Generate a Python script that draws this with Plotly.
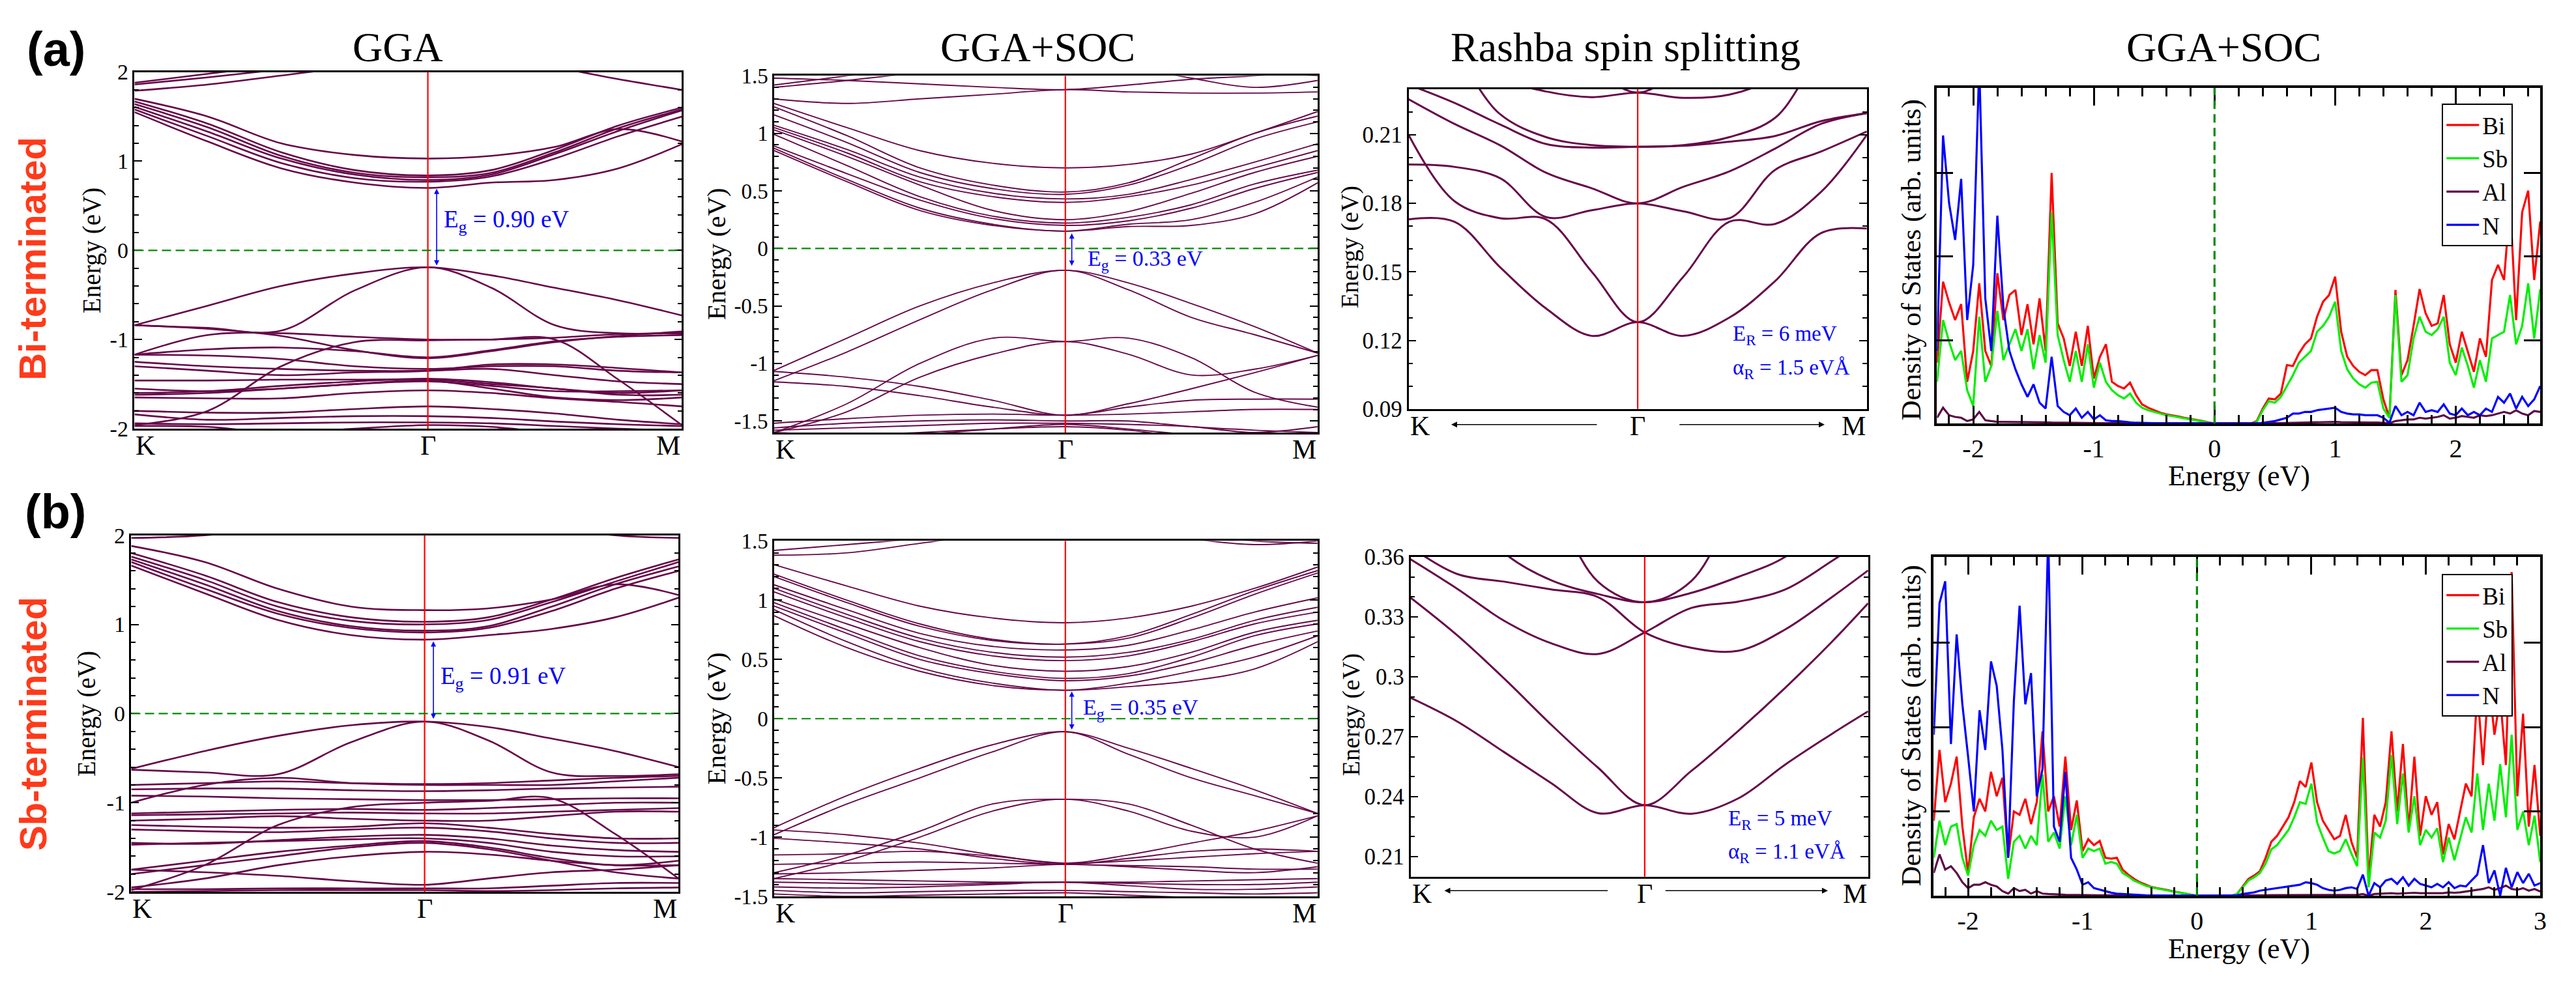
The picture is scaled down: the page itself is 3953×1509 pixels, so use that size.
import plotly.graph_objects as go

W, H = 3953, 1509
SERIF = "Liberation Serif, Times New Roman, serif"
SANS = "Liberation Sans, Arial, sans-serif"
BAND = "#670748"
FERMI = "#008b00"

# ---------------- k-paths ----------------
k_path = [0.0, 0.25, 0.5, 0.75, 1.0, 1.2165, 1.433, 1.6495, 1.866]   # K ... Gamma(1.0) ... M
k_gamma = 1.0
k_rashba_a = [-1.0, -0.8, -0.6, -0.4, -0.2, 0.0, 0.2, 0.4, 0.6, 0.8, 1.0]
k_rashba_b = [-1.0, -0.8, -0.6, -0.4, -0.2, 0.0, 0.2, 0.4, 0.6, 0.8, 0.954]

# ---------------- GGA, Bi-terminated ----------------
gga_a_cond = [
    [1.55, 1.22, 0.92, 0.76, 0.70, 0.76, 0.79, 0.92, 1.19],
    [1.58, 1.28, 0.98, 0.81, 0.77, 0.83, 1.03, 1.28, 1.50],
    [1.61, 1.33, 1.03, 0.85, 0.79, 0.85, 1.08, 1.34, 1.57],
    [1.64, 1.38, 1.06, 0.87, 0.82, 0.87, 1.10, 1.37, 1.58],
    [1.67, 1.42, 1.10, 0.90, 0.84, 0.90, 1.13, 1.40, 1.60],
    [1.70, 1.50, 1.20, 1.07, 1.03, 1.06, 1.16, 1.36, 1.22],
    [1.79, 1.86, 1.96, 2.06, 2.12, 2.12, 2.05, 1.92, 1.80],
    [1.86, 1.94, 2.03, 2.12, 2.20, 2.20, 2.15, 2.08, 2.02],
    [1.88, 1.98, 2.08, 2.18, 2.25, 2.25, 2.20, 2.15, 2.10],
]
gga_a_val = [
    [-0.84, -0.62, -0.40, -0.26, -0.19, -0.28, -0.42, -0.56, -0.73],
    [-0.84, -0.87, -0.90, -0.45, -0.19, -0.42, -0.84, -0.93, -0.92],
    [-1.17, -0.95, -0.93, -0.97, -1.00, -1.00, -0.98, -0.94, -0.93],
    [-0.84, -0.88, -0.96, -1.12, -1.21, -1.13, -1.03, -0.96, -0.91],
    [-1.17, -1.11, -1.09, -1.13, -1.20, -1.12, -1.02, -0.97, -0.95],
    [-1.17, -1.18, -1.22, -1.30, -1.33, -1.30, -1.30, -1.35, -1.37],
    [-1.96, -1.80, -1.30, -1.03, -1.01, -1.00, -1.00, -1.45, -1.96],
    [-1.25, -1.30, -1.33, -1.35, -1.35, -1.33, -1.40, -1.47, -1.50],
    [-1.46, -1.46, -1.45, -1.45, -1.45, -1.50, -1.55, -1.62, -1.62],
    [-1.60, -1.58, -1.52, -1.47, -1.44, -1.48, -1.55, -1.60, -1.57],
    [-1.62, -1.60, -1.55, -1.50, -1.46, -1.55, -1.65, -1.68, -1.65],
    [-1.65, -1.66, -1.66, -1.60, -1.57, -1.60, -1.66, -1.70, -1.75],
    [-1.80, -1.82, -1.82, -1.78, -1.75, -1.78, -1.83, -1.90, -1.95],
    [-1.84, -1.90, -1.88, -1.86, -1.86, -1.88, -1.92, -1.95, -1.97],
    [-1.94, -1.95, -1.94, -1.93, -1.93, -1.94, -1.97, -2.00, -2.02],
    [-1.97, -1.98, -2.05, -2.00, -1.96, -1.98, -2.05, -2.10, -2.10],
    [-1.30, -1.35, -1.40, -1.37, -1.35, -1.28, -1.28, -1.32, -1.37],
    [-1.55, -1.58, -1.55, -1.50, -1.47, -1.52, -1.58, -1.58, -1.57],
]

# ---------------- GGA, Sb-terminated ----------------
gga_b_cond = [
    [1.66, 1.35, 1.05, 0.88, 0.83, 0.88, 0.95, 1.08, 1.30],
    [1.70, 1.40, 1.12, 0.96, 0.91, 0.96, 1.15, 1.40, 1.60],
    [1.73, 1.45, 1.15, 0.98, 0.93, 0.98, 1.20, 1.45, 1.65],
    [1.76, 1.50, 1.20, 1.04, 1.00, 1.05, 1.25, 1.48, 1.70],
    [1.80, 1.55, 1.25, 1.08, 1.03, 1.08, 1.28, 1.52, 1.73],
    [1.88, 1.70, 1.40, 1.20, 1.16, 1.18, 1.28, 1.45, 1.33],
    [1.97, 2.00, 2.10, 2.20, 2.25, 2.20, 2.10, 2.00, 1.97],
]
gga_b_val = [
    [-0.62, -0.42, -0.25, -0.13, -0.09, -0.15, -0.28, -0.42, -0.60],
    [-0.63, -0.66, -0.68, -0.32, -0.09, -0.30, -0.66, -0.70, -0.68],
    [-0.80, -0.78, -0.76, -0.78, -0.79, -0.78, -0.75, -0.72, -0.70],
    [-0.85, -0.84, -0.84, -0.86, -0.87, -0.86, -0.84, -0.83, -0.82],
    [-1.00, -0.80, -0.72, -0.78, -0.80, -0.80, -0.80, -0.76, -0.72],
    [-0.92, -0.93, -0.95, -0.96, -0.97, -0.97, -0.96, -0.95, -0.95],
    [-1.12, -1.10, -1.08, -1.07, -1.08, -1.06, -1.03, -1.00, -1.00],
    [-1.14, -1.13, -1.12, -1.11, -1.12, -1.12, -1.10, -1.08, -1.06],
    [-1.20, -1.18, -1.15, -1.18, -1.20, -1.20, -1.15, -1.10, -1.10],
    [-1.25, -1.27, -1.28, -1.27, -1.23, -1.28, -1.35, -1.40, -1.40],
    [-1.30, -1.32, -1.33, -1.30, -1.28, -1.32, -1.40, -1.45, -1.45],
    [-1.45, -1.46, -1.42, -1.38, -1.36, -1.40, -1.48, -1.53, -1.55],
    [-1.47, -1.45, -1.43, -1.41, -1.40, -1.45, -1.55, -1.60, -1.60],
    [-1.75, -1.65, -1.55, -1.48, -1.43, -1.50, -1.62, -1.70, -1.65],
    [-1.80, -1.70, -1.60, -1.50, -1.45, -1.52, -1.65, -1.78, -1.85],
    [-1.95, -1.85, -1.70, -1.60, -1.55, -1.58, -1.65, -1.70, -1.70],
    [-1.98, -1.70, -1.25, -1.05, -1.00, -0.98, -0.95, -1.35, -1.85],
    [-1.97, -1.97, -1.96, -1.96, -1.96, -1.96, -1.93, -1.90, -1.90],
    [-2.00, -1.99, -1.98, -1.98, -1.98, -1.99, -1.98, -1.96, -1.95],
    [-1.75, -1.78, -1.82, -1.88, -1.92, -1.85, -1.78, -1.75, -1.70],
]

# ---------------- GGA+SOC, Bi-terminated ----------------
soc_a_cond = [
    [0.85, 0.58, 0.33, 0.20, 0.15, 0.19, 0.20, 0.30, 0.57],
    [0.87, 0.60, 0.35, 0.21, 0.15, 0.21, 0.25, 0.40, 0.62],
    [0.89, 0.65, 0.42, 0.26, 0.20, 0.24, 0.35, 0.52, 0.66],
    [0.99, 0.72, 0.45, 0.28, 0.22, 0.27, 0.38, 0.56, 0.68],
    [1.03, 0.80, 0.55, 0.33, 0.25, 0.32, 0.48, 0.66, 0.80],
    [1.05, 0.83, 0.58, 0.45, 0.40, 0.45, 0.55, 0.70, 0.85],
    [1.07, 0.86, 0.62, 0.48, 0.43, 0.47, 0.60, 0.75, 0.91],
    [1.16, 0.92, 0.66, 0.52, 0.47, 0.55, 0.73, 0.95, 1.10],
    [1.23, 0.98, 0.70, 0.55, 0.49, 0.57, 0.78, 1.00, 1.15],
    [1.26, 1.05, 0.85, 0.74, 0.70, 0.73, 0.82, 1.00, 1.19],
    [1.30, 1.26, 1.30, 1.34, 1.38, 1.36, 1.35, 1.35, 1.36],
    [1.48, 1.46, 1.43, 1.40, 1.38, 1.42, 1.47, 1.50, 1.55],
    [1.40, 1.46, 1.53, 1.60, 1.65, 1.58, 1.48, 1.40, 1.46],
    [1.42, 1.50, 1.58, 1.65, 1.70, 1.70, 1.65, 1.55, 1.50],
]
soc_a_val = [
    [-1.06, -0.78, -0.50, -0.30, -0.19, -0.30, -0.48, -0.68, -0.91],
    [-1.15, -0.90, -0.62, -0.36, -0.19, -0.36, -0.60, -0.75, -0.91],
    [-1.60, -1.35, -1.00, -0.78, -0.81, -0.78, -0.95, -1.25, -1.38],
    [-1.60, -1.42, -1.12, -0.92, -0.81, -0.92, -1.10, -1.05, -0.93],
    [-1.07, -1.12, -1.20, -1.32, -1.45, -1.35, -1.22, -1.08, -0.93],
    [-1.16, -1.20, -1.28, -1.38, -1.45, -1.38, -1.32, -1.31, -1.31],
    [-1.52, -1.48, -1.45, -1.44, -1.45, -1.44, -1.42, -1.40, -1.40],
    [-1.56, -1.52, -1.50, -1.49, -1.50, -1.50, -1.55, -1.58, -1.60],
    [-1.58, -1.56, -1.54, -1.52, -1.52, -1.53, -1.55, -1.60, -1.55],
    [-1.60, -1.62, -1.60, -1.57, -1.55, -1.58, -1.65, -1.70, -1.70],
    [-1.70, -1.68, -1.62, -1.57, -1.53, -1.57, -1.62, -1.65, -1.60],
]

# ---------------- GGA+SOC, Sb-terminated ----------------
soc_b_cond = [
    [0.87, 0.60, 0.40, 0.28, 0.24, 0.27, 0.32, 0.42, 0.65],
    [0.92, 0.65, 0.43, 0.30, 0.24, 0.30, 0.40, 0.52, 0.70],
    [0.95, 0.72, 0.50, 0.38, 0.32, 0.36, 0.47, 0.62, 0.74],
    [0.98, 0.75, 0.53, 0.40, 0.34, 0.38, 0.52, 0.70, 0.80],
    [1.01, 0.80, 0.60, 0.45, 0.40, 0.44, 0.56, 0.73, 0.83],
    [1.07, 0.85, 0.65, 0.53, 0.49, 0.53, 0.65, 0.80, 0.90],
    [1.10, 0.88, 0.68, 0.56, 0.52, 0.56, 0.67, 0.83, 0.94],
    [1.13, 0.92, 0.72, 0.61, 0.58, 0.62, 0.75, 0.90, 1.02],
    [1.20, 0.98, 0.78, 0.66, 0.63, 0.68, 0.85, 1.05, 1.23],
    [1.22, 1.00, 0.80, 0.67, 0.63, 0.70, 0.88, 1.08, 1.25],
    [1.30, 1.12, 0.95, 0.85, 0.81, 0.85, 0.95, 1.10, 1.28],
    [1.38, 1.40, 1.48, 1.56, 1.62, 1.60, 1.55, 1.50, 1.48],
    [1.42, 1.47, 1.52, 1.58, 1.65, 1.62, 1.52, 1.47, 1.50],
]
soc_b_val = [
    [-0.92, -0.65, -0.42, -0.22, -0.11, -0.25, -0.42, -0.60, -0.80],
    [-0.98, -0.72, -0.50, -0.28, -0.11, -0.30, -0.50, -0.65, -0.80],
    [-1.30, -1.15, -0.95, -0.72, -0.68, -0.72, -0.90, -1.10, -1.22],
    [-1.35, -1.20, -1.00, -0.78, -0.68, -0.78, -0.95, -1.00, -0.82],
    [-0.94, -0.98, -1.05, -1.15, -1.22, -1.15, -1.05, -0.95, -0.82],
    [-1.01, -1.05, -1.10, -1.18, -1.23, -1.18, -1.12, -1.10, -1.12],
    [-1.23, -1.22, -1.21, -1.22, -1.23, -1.24, -1.25, -1.27, -1.27],
    [-1.31, -1.30, -1.28, -1.26, -1.23, -1.25, -1.28, -1.30, -1.25],
    [-1.35, -1.36, -1.37, -1.38, -1.38, -1.38, -1.37, -1.36, -1.35],
    [-1.38, -1.39, -1.40, -1.39, -1.38, -1.39, -1.40, -1.40, -1.38],
    [-1.42, -1.43, -1.42, -1.40, -1.38, -1.41, -1.44, -1.44, -1.42],
    [-1.45, -1.47, -1.46, -1.45, -1.45, -1.46, -1.47, -1.48, -1.47],
    [-1.48, -1.50, -1.49, -1.48, -1.47, -1.49, -1.51, -1.52, -1.52],
    [-1.15, -1.14, -1.12, -1.16, -1.22, -1.20, -1.17, -1.14, -1.12],
]

# ---------------- Rashba zooms ----------------
rashba_a = [
    [0.173, 0.172, 0.152, 0.134, 0.122, 0.128, 0.122, 0.130, 0.146, 0.167, 0.169],
    [0.210, 0.181, 0.1735, 0.173, 0.150, 0.128, 0.148, 0.172, 0.171, 0.185, 0.210],
    [0.197, 0.196, 0.191, 0.174, 0.177, 0.180, 0.1765, 0.1735, 0.1947, 0.2027, 0.2115],
    [0.2256, 0.2148, 0.2054, 0.1934, 0.1866, 0.180, 0.1873, 0.194, 0.204, 0.2148, 0.2195],
    [0.232, 0.224, 0.2145, 0.206, 0.2044, 0.2048, 0.2052, 0.207, 0.2095, 0.216, 0.2195],
    [0.260, 0.245, 0.219, 0.209, 0.2055, 0.2048, 0.2055, 0.209, 0.2175, 0.245, 0.260],
    [0.260, 0.250, 0.235, 0.229, 0.2265, 0.2285, 0.2262, 0.2276, 0.235, 0.250, 0.260],
    [0.320, 0.300, 0.280, 0.260, 0.240, 0.2285, 0.240, 0.260, 0.280, 0.300, 0.320],
]
rashba_b = [
    [0.2895, 0.2776, 0.2623, 0.2469, 0.2318, 0.2358, 0.2315, 0.2392, 0.2561, 0.2715, 0.2827],
    [0.3396, 0.3207, 0.2991, 0.2761, 0.2546, 0.2358, 0.2530, 0.2730, 0.2945, 0.3176, 0.3368],
    [0.3588, 0.3440, 0.3280, 0.3168, 0.3114, 0.3222, 0.3345, 0.3376, 0.3437, 0.3580, 0.3700],
    [0.3650, 0.3514, 0.3476, 0.3437, 0.3399, 0.3222, 0.3145, 0.3130, 0.3237, 0.3399, 0.3532],
    [0.4200, 0.3900, 0.3620, 0.3483, 0.3414, 0.3373, 0.3420, 0.3500, 0.3600, 0.3800, 0.4000],
    [0.5000, 0.4700, 0.4300, 0.3900, 0.3476, 0.3373, 0.3480, 0.3900, 0.4300, 0.4700, 0.5000],
]

# ---------------- projected DOS ----------------
dos_a_energy = [round(-2.30 + 0.05 * i, 2) for i in range(101)]
dos_b_energy = [round(-2.30 + 0.05 * i, 2) for i in range(107)]

dos_a_bi = [0.73, 1.70, 1.45, 1.24, 1.43, 0.50, 0.87, 1.68, 0.87, 0.69, 1.80, 1.24, 1.54, 1.60, 1.06, 1.43,
            0.95, 1.50, 0.87, 3.00, 1.20, 1.02, 0.69, 1.10, 0.69, 1.17, 0.54, 0.80, 0.95, 0.50, 0.45, 0.42,
            0.49, 0.34, 0.23, 0.19, 0.16, 0.13, 0.11, 0.10, 0.085, 0.07, 0.06, 0.045, 0.03, 0.015, 0.0,
            0, 0, 0, 0, 0, 0,
            0.03, 0.18, 0.30, 0.29, 0.36, 0.70, 0.69, 0.84, 0.95, 1.02, 1.28, 1.46, 1.54, 1.76, 1.10, 0.80,
            0.69, 0.62, 0.58, 0.64, 0.64, 0.29, 0.07, 1.60, 0.58, 0.76, 1.17, 1.61, 1.32, 1.17, 1.20, 1.54,
            0.95, 0.73, 1.10, 0.87, 0.62, 1.02, 0.80, 1.72, 1.90, 1.72, 2.64, 1.24, 2.53, 2.79, 1.72, 2.42]
dos_a_sb = [0.50, 1.24, 0.98, 0.76, 0.87, 0.40, 0.21, 1.28, 0.50, 0.69, 1.35, 0.76, 0.95, 1.13, 0.87, 1.13,
            0.65, 1.06, 0.73, 2.53, 1.06, 0.76, 0.50, 0.87, 0.50, 0.95, 0.43, 0.73, 0.50, 0.40, 0.34, 0.30,
            0.36, 0.25, 0.19, 0.16, 0.14, 0.12, 0.10, 0.09, 0.075, 0.062, 0.05, 0.038, 0.025, 0.012, 0.0,
            0, 0, 0, 0, 0, 0,
            0.02, 0.16, 0.27, 0.25, 0.32, 0.45, 0.58, 0.73, 0.80, 0.87, 1.10, 1.17, 1.28, 1.46, 0.87, 0.65,
            0.54, 0.47, 0.43, 0.49, 0.50, 0.18, 0.07, 1.54, 0.50, 0.58, 1.02, 1.28, 1.10, 1.06, 1.13, 1.28,
            0.73, 0.58, 0.91, 0.69, 0.43, 0.76, 0.50, 1.02, 1.06, 1.10, 1.54, 0.95, 1.17, 1.68, 1.02, 1.61]
dos_a_al = [0.07, 0.19, 0.10, 0.08, 0.07, 0.03, 0.05, 0.14, 0.04, 0.03, 0.02, 0.02, 0.02, 0.018, 0.018,
            0.016, 0.015, 0.015, 0.015, 0.012, 0.012, 0.01, 0.01, 0.01, 0.008, 0.008, 0.007,
            0.006, 0.005, 0.005, 0.004, 0.004, 0.003, 0.003, 0.002, 0.002, 0.002, 0.001, 0.001, 0.001,
            0.001, 0, 0, 0, 0, 0, 0,
            0, 0, 0, 0, 0, 0, 0,
            0.002, 0.003, 0.005, 0.006, 0.008, 0.01, 0.01, 0.012, 0.014, 0.015, 0.016, 0.018, 0.02, 0.016,
            0.014, 0.013, 0.013, 0.012, 0.012, 0.012, 0.01, 0.005, 0.03, 0.04, 0.05, 0.05, 0.07, 0.06,
            0.07, 0.08, 0.10, 0.06, 0.07, 0.09, 0.08, 0.07, 0.10, 0.09, 0.10, 0.12, 0.14, 0.12, 0.16,
            0.12, 0.10, 0.15, 0.14]
dos_a_n = [0.87, 3.45, 2.64, 2.20, 2.93, 1.24, 1.90, 4.30, 1.50, 0.87, 2.49, 1.39, 0.87, 0.65, 0.47, 0.32,
           0.47, 0.25, 0.18, 0.80, 0.21, 0.14, 0.10, 0.18, 0.07, 0.14, 0.05, 0.10, 0.04, 0.03, 0.03, 0.02,
           0.015, 0.01, 0.007, 0.005, 0.004, 0.003, 0.003, 0.002, 0.002, 0.001, 0.001, 0.001, 0, 0, 0,
           0, 0, 0, 0, 0, 0, 0,
           0.01, 0.02, 0.03, 0.05, 0.07, 0.12, 0.12, 0.14, 0.14, 0.16, 0.17, 0.18, 0.19, 0.14, 0.12, 0.11,
           0.11, 0.10, 0.10, 0.10, 0.07, 0.01, 0.21, 0.10, 0.14, 0.10, 0.25, 0.14, 0.16, 0.14, 0.23, 0.12,
           0.10, 0.18, 0.10, 0.14, 0.10, 0.18, 0.14, 0.32, 0.25, 0.36, 0.18, 0.32, 0.21, 0.29, 0.45]

dos_b_bi = [0.89, 1.73, 1.11, 1.33, 1.65, 0.82, 0.27, 0.93, 1.15, 1.00, 1.47, 1.18, 1.40, 0.45, 1.00, 0.96,
            1.15, 0.85, 1.11, 1.95, 1.00, 1.18, 0.82, 1.65, 0.78, 1.13, 0.53, 0.67, 0.60, 0.65, 0.45, 0.44,
            0.45, 0.31, 0.25, 0.20, 0.16, 0.13, 0.105, 0.09, 0.08, 0.065, 0.05, 0.037, 0.025, 0.012, 0.0,
            0, 0, 0, 0, 0, 0,
            0.02, 0.11, 0.20, 0.24, 0.29, 0.45, 0.64, 0.71, 0.82, 0.93, 1.11, 1.36, 1.29, 1.58, 1.11, 0.89,
            0.78, 0.67, 0.71, 0.96, 0.64, 0.45, 2.11, 0.20, 0.96, 0.82, 1.11, 1.95, 1.00, 1.80, 0.78, 1.65,
            0.71, 1.18, 0.96, 1.11, 0.49, 0.85, 0.67, 1.00, 1.33, 1.18, 2.45, 1.55, 2.56, 1.91, 2.35, 1.55,
            3.84, 1.18, 2.16, 0.82, 1.55, 0.71]
dos_b_sb = [0.45, 0.89, 0.60, 0.82, 0.85, 0.45, 0.24, 0.60, 0.78, 0.71, 0.89, 0.78, 0.82, 0.20, 0.64, 0.71,
            0.56, 0.71, 0.60, 1.44, 0.64, 0.75, 0.56, 1.18, 0.60, 0.96, 0.45, 0.56, 0.53, 0.56, 0.38, 0.40,
            0.38, 0.27, 0.23, 0.18, 0.15, 0.12, 0.10, 0.085, 0.075, 0.06, 0.047, 0.035, 0.023, 0.011, 0.0,
            0, 0, 0, 0, 0, 0,
            0.02, 0.10, 0.18, 0.22, 0.27, 0.38, 0.55, 0.60, 0.69, 0.78, 0.93, 1.11, 1.09, 1.33, 0.87, 0.69,
            0.53, 0.50, 0.53, 0.67, 0.50, 0.35, 1.64, 0.10, 0.75, 0.69, 0.89, 1.67, 0.85, 1.45, 0.75, 1.18,
            0.60, 0.78, 0.69, 0.80, 0.40, 0.69, 0.42, 0.67, 0.93, 0.75, 1.45, 0.78, 1.33, 0.89, 1.56, 0.93,
            1.91, 0.78, 1.00, 0.60, 0.95, 0.40]
dos_b_al = [0.27, 0.49, 0.31, 0.35, 0.27, 0.16, 0.09, 0.13, 0.13, 0.16, 0.13, 0.11, 0.055, 0.025, 0.09,
            0.055, 0.07, 0.025, 0.055, 0.025, 0.02, 0.015, 0.015, 0.012, 0.012, 0.01, 0.01,
            0.008, 0.007, 0.006, 0.005, 0.004, 0.004, 0.003, 0.003, 0.002, 0.002, 0.001, 0.001, 0.001,
            0, 0, 0, 0, 0, 0, 0,
            0, 0, 0, 0, 0, 0,
            0.001, 0.002, 0.003, 0.004, 0.005, 0.006, 0.007, 0.008, 0.009, 0.01, 0.011, 0.012, 0.013,
            0.014, 0.012, 0.01, 0.01, 0.01, 0.012, 0.013, 0.012, 0.01, 0.02, 0.0, 0.02, 0.025, 0.03, 0.03,
            0.025, 0.03, 0.03, 0.035, 0.03, 0.03, 0.035, 0.035, 0.03, 0.04, 0.035, 0.04, 0.05, 0.06, 0.07,
            0.08, 0.10, 0.07, 0.09, 0.12, 0.08, 0.07, 0.09, 0.06, 0.08, 0.05]
dos_b_n = [1.91, 3.47, 3.73, 1.80, 3.10, 2.27, 1.65, 1.00, 2.20, 1.73, 2.78, 2.49, 1.73, 0.45, 2.31, 3.44,
           2.27, 2.64, 1.18, 1.50, 4.30, 0.82, 0.64, 1.47, 0.45, 0.31, 0.13, 0.16, 0.09, 0.07, 0.055, 0.036,
           0.025, 0.02, 0.015, 0.01, 0.008, 0.006, 0.004, 0.003, 0.002, 0.001, 0.001, 0, 0, 0, 0,
           0, 0, 0, 0, 0, 0,
           0.005, 0.02, 0.03, 0.04, 0.06, 0.07, 0.08, 0.09, 0.10, 0.11, 0.12, 0.13, 0.16, 0.15, 0.13, 0.09,
           0.07, 0.06, 0.07, 0.09, 0.10, 0.08, 0.25, 0.0, 0.15, 0.10, 0.18, 0.20, 0.14, 0.22, 0.12, 0.20,
           0.14, 0.12, 0.10, 0.14, 0.10, 0.16, 0.09, 0.12, 0.11, 0.18, 0.25, 0.60, 0.15, 0.30, 0.0, 0.33,
           0.10, 0.28, 0.15, 0.26, 0.12, 0.15]

species = ["Bi", "Sb", "Al", "N"]
species_colors = ["#ff0000", "#00ee00", "#5c0a45", "#0000ff"]

# ---------------- layout geometry (pixels) ----------------
panels = {
    1: dict(x=(207, 1049), y=(94, 656)),
    2: dict(x=(1191, 2027), y=(100, 662)),
    3: dict(x=(2167, 2872), y=(121, 625)),
    4: dict(x=(2980, 3908), y=(119, 648)),
    5: dict(x=(202, 1044), y=(824, 1386)),
    6: dict(x=(1191, 2027), y=(833, 1393)),
    7: dict(x=(2170, 2874), y=(858, 1362)),
    8: dict(x=(2975, 3908), y=(858, 1392)),
}


def xid(i):
    return "x" if i == 1 else f"x{i}"


def yid(i):
    return "y" if i == 1 else f"y{i}"


def xdom(i):
    p = panels[i]["x"]
    return [p[0] / W, p[1] / W]


def ydom(i):
    p = panels[i]["y"]
    return [1 - p[1] / H, 1 - p[0] / H]


fig = go.Figure()


def add_bands(i, kx, bands, width):
    for b in bands:
        fig.add_trace(go.Scatter(
            x=kx, y=b, mode="lines",
            line=dict(color=BAND, width=width, shape="spline", smoothing=1.0),
            xaxis=xid(i), yaxis=yid(i), showlegend=False, hoverinfo="skip"))


add_bands(1, k_path, gga_a_cond + gga_a_val, 2.6)
add_bands(5, k_path, gga_b_cond + gga_b_val, 2.6)
add_bands(2, k_path, soc_a_cond + soc_a_val, 1.9)
add_bands(6, k_path, soc_b_cond + soc_b_val, 1.9)
add_bands(3, k_rashba_a, rashba_a, 3.0)
add_bands(7, k_rashba_b, rashba_b, 3.0)

dos_sets = [
    (4, "legend", dos_a_energy, [dos_a_bi, dos_a_sb, dos_a_al, dos_a_n]),
    (8, "legend2", dos_b_energy, [dos_b_bi, dos_b_sb, dos_b_al, dos_b_n]),
]
for i, leg, en, series in dos_sets:
    for name, col, vals in zip(species, species_colors, series):
        n = min(len(en), len(vals))
        fig.add_trace(go.Scatter(
            x=en[:n], y=vals[:n], mode="lines", name=name,
            line=dict(color=col, width=3.2),
            xaxis=xid(i), yaxis=yid(i), legend=leg, showlegend=True, hoverinfo="skip"))

# ---------------- axes ----------------
layout_axes = {}


def band_yaxis(i, rng, major, minor_step, tfs, ticklabels=None):
    return dict(
        domain=ydom(i), anchor=xid(i), range=rng, showgrid=False, zeroline=False,
        showline=True, linecolor="black", linewidth=2.5, mirror="ticks",
        ticks="inside", ticklen=12, tickwidth=2, tickcolor="black",
        tickmode="array", tickvals=major,
        ticktext=ticklabels if ticklabels else [f"{v:g}" for v in major],
        tickfont=dict(family=SERIF, size=tfs, color="black"),
        minor=dict(tickmode="linear", tick0=rng[0], dtick=minor_step, ticks="inside",
                   ticklen=7, tickwidth=2, tickcolor="black", showgrid=False))


def band_xaxis(i, rng):
    return dict(domain=xdom(i), anchor=yid(i), range=rng, showgrid=False, zeroline=False,
                showline=True, linecolor="black", linewidth=2.5, mirror=True,
                ticks="", showticklabels=False)


for i in (1, 5):
    layout_axes["xaxis" if i == 1 else f"xaxis{i}"] = band_xaxis(i, [0, 1.866])
    layout_axes["yaxis" if i == 1 else f"yaxis{i}"] = band_yaxis(i, [-2, 2], [-2, -1, 0, 1, 2], 0.2, 34)
layout_axes["xaxis2"] = band_xaxis(2, [0, 1.866])
layout_axes["yaxis2"] = band_yaxis(2, [-1.6, 1.5], [-1.5, -1, -0.5, 0, 0.5, 1, 1.5], 0.1, 33)
layout_axes["xaxis6"] = band_xaxis(6, [0, 1.866])
layout_axes["yaxis6"] = band_yaxis(6, [-1.5, 1.5], [-1.5, -1, -0.5, 0, 0.5, 1, 1.5], 0.1, 33)
layout_axes["xaxis3"] = band_xaxis(3, [-1.0, 1.0])
layout_axes["yaxis3"] = band_yaxis(3, [0.09, 0.23], [0.09, 0.12, 0.15, 0.18, 0.21], 0.01, 35,
                                   ["0.09", "0.12", "0.15", "0.18", "0.21"])
layout_axes["xaxis7"] = band_xaxis(7, [-1.0, 0.954])
layout_axes["yaxis7"] = band_yaxis(7, [0.20, 0.36], [0.21, 0.24, 0.27, 0.30, 0.33, 0.36], 0.01, 35,
                                   ["0.21", "0.24", "0.27", "0.3", "0.33", "0.36"])

for i, xr, ticks in ((4, [-2.3, 2.7], [-2, -1, 0, 1, 2]), (8, [-2.3, 3.0], [-2, -1, 0, 1, 2, 3])):
    layout_axes[f"xaxis{i}"] = dict(
        domain=xdom(i), anchor=yid(i), range=xr, showgrid=False, zeroline=False,
        showline=True, linecolor="black", linewidth=4, mirror="ticks",
        ticks="inside", ticklen=27, tickwidth=3, tickcolor="black",
        tickmode="array", tickvals=ticks, ticktext=[f"{v:g}" for v in ticks],
        tickfont=dict(family=SERIF, size=40, color="black"),
        minor=dict(tickmode="linear", tick0=0, dtick=0.2, ticks="inside", ticklen=13,
                   tickwidth=3, tickcolor="black", showgrid=False))
    layout_axes[f"yaxis{i}"] = dict(
        domain=ydom(i), anchor=xid(i), range=[0, 4.02], showgrid=False, zeroline=False,
        showline=True, linecolor="black", linewidth=4, mirror="ticks",
        ticks="inside", ticklen=25, tickwidth=3, tickcolor="black",
        tickmode="array", tickvals=[1, 2, 3], showticklabels=False)

# ---------------- shapes ----------------
shapes = []
for i, g in ((1, k_gamma), (2, k_gamma), (5, k_gamma), (6, k_gamma), (3, 0.0), (7, 0.0)):
    shapes.append(dict(type="line", xref=xid(i), yref=f"{yid(i)} domain", x0=g, x1=g, y0=0, y1=1,
                       line=dict(color="#ff0000", width=2.2), layer="above"))
for i in (1, 2, 5, 6):
    shapes.append(dict(type="line", xref=f"{xid(i)} domain", yref=yid(i), x0=0, x1=1, y0=0, y1=0,
                       line=dict(color=FERMI, width=2.2, dash="14px,7px"), layer="above"))
for i in (4, 8):
    shapes.append(dict(type="line", xref=xid(i), yref=f"{yid(i)} domain", x0=0, x1=0, y0=0, y1=1,
                       line=dict(color=FERMI, width=3.2, dash="13px,8px"), layer="above"))

# ---------------- annotations ----------------
ann = []


def paper_text(text, px, py, size, family=SERIF, color="black", angle=0, bold=False):
    if bold:
        text = f"<b>{text}</b>"
    ann.append(dict(text=text, xref="paper", yref="paper", x=px / W, y=1 - py / H,
                    xanchor="center", yanchor="middle", showarrow=False, textangle=angle,
                    font=dict(family=family, size=size, color=color)))


# column titles
paper_text("GGA", 612, 55, 64)
paper_text("GGA+SOC", 1597, 55, 64)
paper_text("Rashba spin splitting", 2501, 55, 64)
paper_text("GGA+SOC", 3421, 55, 64)
# row labels
paper_text("(a)", 86, 58, 74, family=SANS, bold=True)
paper_text("(b)", 86, 787, 74, family=SANS, bold=True)
paper_text("Bi-terminated", 50, 388, 58, family=SANS, color="#ff3a1a", angle=-90, bold=True)
paper_text("Sb-terminated", 50, 1121, 58, family=SANS, color="#ff3a1a", angle=-90, bold=True)
# y-axis titles
paper_text("Energy (eV)", 142, 375, 39, angle=-90)
paper_text("Energy (eV)", 134, 1105, 39, angle=-90)
paper_text("Energy (eV)", 1102, 381, 41, angle=-90)
paper_text("Energy (eV)", 1102, 1113, 41, angle=-90)
paper_text("Energy (eV)", 2077, 370, 38, angle=-90)
paper_text("Energy (eV)", 2079, 1107, 38, angle=-90)
paper_text("Density of States (arb. units)", 2940, 390, 43, angle=-90)
paper_text("Density of States (arb. units)", 2940, 1124, 43, angle=-90)
# DOS x titles
paper_text("Energy (eV)", 3445, 730, 44)
paper_text("Energy (eV)", 3445, 1476, 44)

# high-symmetry labels
for i, g in ((1, k_gamma), (2, k_gamma), (5, k_gamma), (6, k_gamma), (3, 0.0), (7, 0.0)):
    yd = f"{yid(i)} domain"
    for txt, xr, xv, anc in (("K", f"{xid(i)} domain", 0, "left"),
                             ("Γ", xid(i), g, "center"),
                             ("M", f"{xid(i)} domain", 1, "right")):
        ann.append(dict(text=txt, xref=xr, yref=yd, x=xv, y=0, xanchor=anc, yanchor="top",
                        yshift=-1, showarrow=False, font=dict(family=SERIF, size=42, color="black")))

# band gap arrows + labels
gap_marks = [
    (1, 1.03, 0.69, -0.18, 1.05, 0.33, "E<sub>g</sub> = 0.90 eV", 37),
    (5, 1.03, 0.81, -0.07, 1.05, 0.40, "E<sub>g</sub> = 0.91 eV", 37),
    (2, 1.022, 0.13, -0.16, 1.072, -0.10, "E<sub>g</sub> = 0.33 eV", 34),
    (6, 1.022, 0.23, -0.10, 1.056, 0.085, "E<sub>g</sub> = 0.35 eV", 34),
]
for i, ax_x, top, bot, tx, ty, txt, fs in gap_marks:
    ann.append(dict(text="", xref=xid(i), yref=yid(i), x=ax_x, y=top, axref=xid(i), ayref=yid(i),
                    ax=ax_x, ay=bot, showarrow=True, arrowside="end+start", arrowhead=2,
                    startarrowhead=2, arrowsize=1.0, startarrowsize=1.0, arrowwidth=1.6,
                    arrowcolor="#0000ff", standoff=0, startstandoff=0))
    ann.append(dict(text=txt, xref=xid(i), yref=yid(i), x=tx, y=ty, xanchor="left", yanchor="middle",
                    showarrow=False, font=dict(family=SERIF, size=fs, color="#0000ff")))

# Rashba parameters
for i, kx, y1, y2, e_txt, a_txt in ((3, 0.41, 0.1222, 0.1075, "E<sub>R</sub> = 6 meV", "α<sub>R</sub> = 1.5 eVÅ"),
                                    (7, 0.35, 0.2283, 0.2118, "E<sub>R</sub> = 5 meV", "α<sub>R</sub> = 1.1 eVÅ")):
    for yv, t in ((y1, e_txt), (y2, a_txt)):
        ann.append(dict(text=t, xref=xid(i), yref=yid(i), x=kx, y=yv, xanchor="left", yanchor="middle",
                        showarrow=False, font=dict(family=SERIF, size=33, color="#0000ff")))

# Rashba direction arrows under the axes
for i, yv, (lt, lh), (rt, rh) in ((3, -0.0486, (0.413, 0.093), (0.589, 0.908)),
                                  (7, -0.0437, (0.433, 0.074), (0.555, 0.912))):
    for tail, head in ((lt, lh), (rt, rh)):
        ann.append(dict(text="", xref=f"{xid(i)} domain", yref=f"{yid(i)} domain", x=head, y=yv,
                        axref=f"{xid(i)} domain", ayref=f"{yid(i)} domain", ax=tail, ay=yv,
                        showarrow=True, arrowhead=2, arrowsize=1.2, arrowwidth=1.5,
                        arrowcolor="black", standoff=0))

legend_common = dict(xanchor="right", yanchor="top", bordercolor="black", borderwidth=2,
                     bgcolor="white", font=dict(family=SERIF, size=37, color="black"),
                     itemwidth=50, tracegroupgap=0, itemclick=False)

fig.update_layout(
    width=W, height=H, margin=dict(l=0, r=0, t=0, b=0),
    paper_bgcolor="white", plot_bgcolor="white",
    showlegend=True,
    legend=dict(x=3866 / W, y=1 - 144 / H, **legend_common),
    legend2=dict(x=3866 / W, y=1 - 885 / H, **legend_common),
    shapes=shapes, annotations=ann,
    **layout_axes,
)

fig.write_html("out.html")
